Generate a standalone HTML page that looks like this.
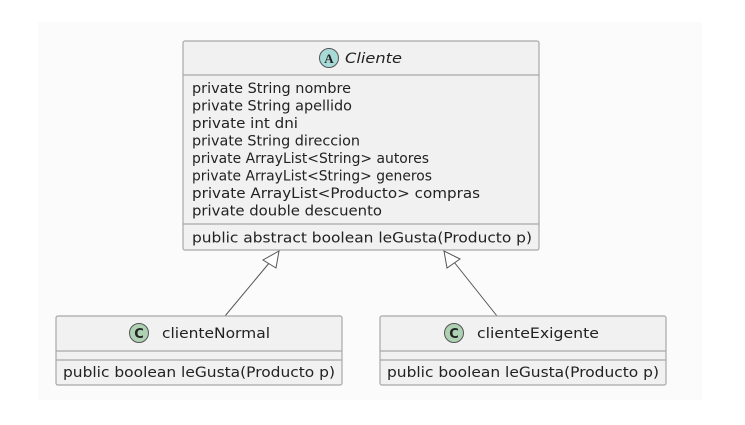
<!DOCTYPE html>
<html><head><style>html,body{margin:0;padding:0;background:#fff}svg{display:block}</style></head>
<body>
<svg width="745" height="425" viewBox="0 0 745 425" xmlns="http://www.w3.org/2000/svg" font-family="DejaVu Sans, Liberation Sans, sans-serif" font-size="14.5" fill="#222">
<rect x="38" y="22" width="664" height="378" fill="#fbfbfb"/>
<!-- Cliente -->
<rect x="183" y="41" width="356" height="209" rx="2" fill="#f1f1f1" stroke="#a8a8a8" stroke-width="1.2"/>
<line x1="183" y1="75" x2="539" y2="75" stroke="#a8a8a8" stroke-width="1.2"/>
<line x1="183" y1="224" x2="539" y2="224" stroke="#a8a8a8" stroke-width="1.2"/>
<circle cx="329" cy="58" r="9.5" fill="#a8dbd8" stroke="#555" stroke-width="1"/>
<text x="329" y="63" text-anchor="middle" font-size="13" font-weight="bold" font-family="Liberation Serif, serif">A</text>
<text x="345" y="63" font-style="italic" textLength="57" lengthAdjust="spacingAndGlyphs">Cliente</text>
<g lengthAdjust="spacingAndGlyphs">
<text x="192" y="93" textLength="159" lengthAdjust="spacingAndGlyphs">private String nombre</text>
<text x="192" y="110.5" textLength="160" lengthAdjust="spacingAndGlyphs">private String apellido</text>
<text x="192" y="128" textLength="106" lengthAdjust="spacingAndGlyphs">private int dni</text>
<text x="192" y="145.5" textLength="168" lengthAdjust="spacingAndGlyphs">private String direccion</text>
<text x="192" y="163" textLength="237" lengthAdjust="spacingAndGlyphs">private ArrayList&lt;String&gt; autores</text>
<text x="192" y="180.5" textLength="240" lengthAdjust="spacingAndGlyphs">private ArrayList&lt;String&gt; generos</text>
<text x="192" y="198" textLength="288" lengthAdjust="spacingAndGlyphs">private ArrayList&lt;Producto&gt; compras</text>
<text x="192" y="215.5" textLength="190" lengthAdjust="spacingAndGlyphs">private double descuento</text>
<text x="192" y="242.5" textLength="340" lengthAdjust="spacingAndGlyphs">public abstract boolean leGusta(Producto p)</text>
</g>
<!-- arrows -->
<line x1="270" y1="262" x2="225" y2="316" stroke="#555" stroke-width="1"/>
<polygon points="279,251 263,260 276,268" fill="#fff" stroke="#555" stroke-width="1"/>
<line x1="454" y1="262" x2="497" y2="316" stroke="#555" stroke-width="1"/>
<polygon points="444,251 447,268 460,259" fill="#fff" stroke="#555" stroke-width="1"/>
<!-- clienteNormal -->
<rect x="56" y="316" width="286" height="69" rx="2" fill="#f1f1f1" stroke="#a8a8a8" stroke-width="1.2"/>
<line x1="56" y1="351" x2="342" y2="351" stroke="#a8a8a8" stroke-width="1.2"/>
<line x1="56" y1="360" x2="342" y2="360" stroke="#a8a8a8" stroke-width="1.2"/>
<circle cx="139" cy="333" r="9.5" fill="#add1b2" stroke="#555" stroke-width="1"/>
<text x="139" y="338" text-anchor="middle" font-size="13" font-weight="bold">C</text>
<text x="162" y="338" textLength="108" lengthAdjust="spacingAndGlyphs">clienteNormal</text>
<text x="63" y="377" textLength="272" lengthAdjust="spacingAndGlyphs">public boolean leGusta(Producto p)</text>
<!-- clienteExigente -->
<rect x="380" y="316" width="286" height="69" rx="2" fill="#f1f1f1" stroke="#a8a8a8" stroke-width="1.2"/>
<line x1="380" y1="351" x2="666" y2="351" stroke="#a8a8a8" stroke-width="1.2"/>
<line x1="380" y1="360" x2="666" y2="360" stroke="#a8a8a8" stroke-width="1.2"/>
<circle cx="454" cy="333" r="9.5" fill="#add1b2" stroke="#555" stroke-width="1"/>
<text x="454" y="338" text-anchor="middle" font-size="13" font-weight="bold">C</text>
<text x="477" y="338" textLength="122" lengthAdjust="spacingAndGlyphs">clienteExigente</text>
<text x="387" y="377" textLength="272" lengthAdjust="spacingAndGlyphs">public boolean leGusta(Producto p)</text>
</svg>
</body></html>
